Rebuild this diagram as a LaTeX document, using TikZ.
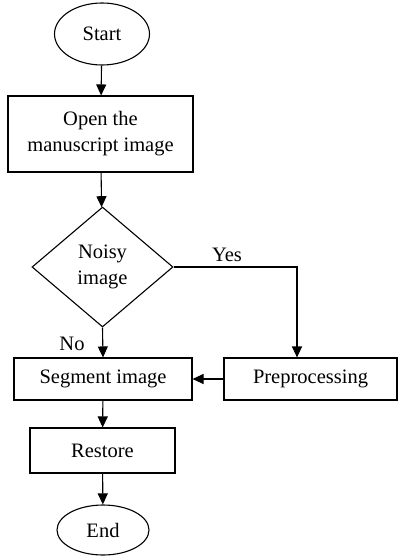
\documentclass[tikz,border=0pt]{standalone}
\usepackage{fontspec}
\setmainfont{Liberation Serif}
\usetikzlibrary{shapes.geometric,arrows.meta}
\begin{document}
\begin{tikzpicture}[x=1pt,y=-1pt,
  every node/.style={font=\fontsize{20.5}{26}\selectfont, inner sep=0pt, align=center},
  term/.style={draw, ellipse, line width=1.1pt},
  procbox/.style={draw, rectangle, line width=1.1pt},
  decide/.style={draw, diamond, line width=1.1pt},
  conn/.style={line width=1.1pt, -{Triangle[length=11pt,width=10pt]}},
  lbl/.style={font=\fontsize{20.5}{26}\selectfont}]
\useasboundingbox (0,0) rectangle (398,556);
\node[term, minimum width=95pt, minimum height=62pt] (start) at (102,34) {Start};
\node[procbox, minimum width=185pt, minimum height=76pt] (open) at (100.5,134) {Open the\\manuscript image};
\node[decide, minimum width=141pt, minimum height=120pt] (noisy) at (102.5,267) {Noisy\\image};
\node[procbox, minimum width=178pt, minimum height=42pt] (seg) at (103,379) {Segment image};
\node[procbox, minimum width=173pt, minimum height=42pt] (pre) at (310.5,379) {Preprocessing};
\node[procbox, minimum width=145pt, minimum height=45pt] (restore) at (102.5,450.5) {Restore};
\node[term, minimum width=92pt, minimum height=50pt] (end) at (103,530) {End};
\coordinate (yesturn) at (297,267);
\draw[conn] (start) -- (open);
\draw[conn] (open) -- (noisy);
\draw[conn] (noisy.south) -- (seg.north);
\node[lbl] (nolbl) at (72,344) {No};
\draw[conn] (noisy.east) -- (yesturn) -- (yesturn |- pre.north);
\node[lbl] (yeslbl) at (227,255) {Yes};
\draw[conn] (pre.west) -- (seg.east);
\draw[conn] (seg) -- (restore);
\draw[conn] (restore) -- (end);
\end{tikzpicture}
\end{document}
